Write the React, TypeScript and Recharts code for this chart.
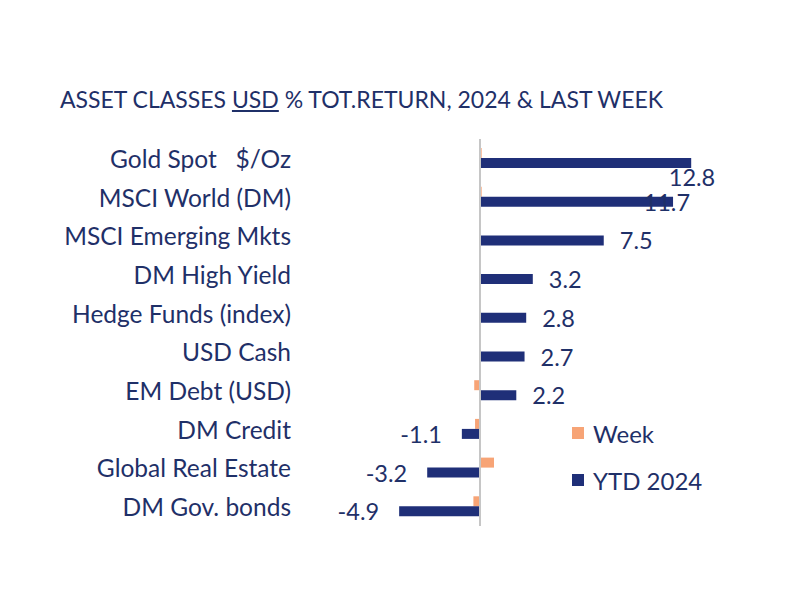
import { BarChart, Bar, XAxis, YAxis, ReferenceLine, LabelList } from 'recharts';

const assetClasses = [
  'Gold Spot   $/Oz',
  'MSCI World (DM)',
  'MSCI Emerging Mkts',
  'DM High Yield',
  'Hedge Funds (index)',
  'USD Cash',
  'EM Debt (USD)',
  'DM Credit',
  'Global Real Estate',
  'DM Gov. bonds',
];
const weekReturns = [0.1, 0.1, 0, 0, 0, 0, -0.35, -0.3, 0.85, -0.4];
const ytdReturns = [12.8, 11.7, 7.5, 3.2, 2.8, 2.7, 2.2, -1.1, -3.2, -4.9];

const NAVY = '#1f2f78';
const TEXT = '#1f3068';
const ORANGE = '#f7a476';
const FONT = 'Lato, "Open Sans", sans-serif';

const data = assetClasses.map((name, i) => ({
  name,
  week: weekReturns[i],
  ytd: ytdReturns[i],
}));

// Category labels sit well left of the zero line
const CategoryTick = ({ x, y, payload }: any) => (
  <text x={x - 82} y={y} textAnchor="end" dominantBaseline="central" fill={TEXT} fontSize={24.5} fontFamily={FONT}>
    {payload.value.split('   ').join('\u00a0\u00a0\u00a0')}
  </text>
);

const YtdLabel = (props: any) => {
  const { x, y, width, height, value } = props;
  const left = Math.min(x, x + width);
  const right = Math.max(x, x + width);
  const cy = y + height / 2;
  let tx = right + 16;
  let anchor: 'start' | 'end' = 'start';
  let dy = 0;
  if (value < 0) {
    tx = left - 20;
    anchor = 'end';
  } else if (value > 12) {
    // pushed below the bar end, as the plot edge clips it
    tx = right + 24;
    anchor = 'end';
    dy = 14;
  } else if (value > 10) {
    tx = right + 17;
    anchor = 'end';
  }
  return (
    <text x={tx} y={cy + dy} textAnchor={anchor} dominantBaseline="central" fill={TEXT} fontSize={23.5} fontFamily={FONT}>
      {Number(value).toFixed(1)}
    </text>
  );
};

const legendRow = { display: 'flex', alignItems: 'center', height: 26 } as const;

export default function App() {
  return (
    <div style={{ position: 'relative', width: 784, height: 580, background: '#fff' }}>
      <div
        style={{
          position: 'absolute',
          left: 52,
          top: 77,
          fontFamily: FONT,
          fontSize: 23,
          color: TEXT,
          whiteSpace: 'nowrap',
        }}
      >
        ASSET CLASSES <span style={{ textDecoration: 'underline' }}>USD</span> % TOT.RETURN, 2024 &amp; LAST WEEK
      </div>
      <div style={{ position: 'absolute', left: 564, top: 412, fontFamily: FONT, fontSize: 24, color: TEXT }}>
        <div style={{ ...legendRow, marginBottom: 21 }}>
          <span style={{ width: 12, height: 12, background: ORANGE, display: 'inline-block', marginRight: 9 }} />
          Week
        </div>
        <div style={legendRow}>
          <span style={{ width: 12, height: 12, background: NAVY, display: 'inline-block', marginRight: 9 }} />
          YTD 2024
        </div>
      </div>
      <BarChart
        width={784}
        height={580}
        data={data}
        layout="vertical"
        margin={{ top: 131, right: 81, bottom: 62, left: 0 }}
        barGap={0}
        barCategoryGap="25%"
      >
        <XAxis type="number" domain={[-6, 14]} hide />
        <YAxis
          type="category"
          dataKey="name"
          width={373}
          axisLine={false}
          tickLine={false}
          tick={<CategoryTick />}
          interval={0}
        />
        <ReferenceLine x={0} stroke="#c6c6c6" strokeWidth={2} />
        <Bar dataKey="week" name="Week" fill={ORANGE} barSize={10} isAnimationActive={false} />
        <Bar dataKey="ytd" name="YTD 2024" fill={NAVY} barSize={10} isAnimationActive={false}>
          <LabelList dataKey="ytd" content={<YtdLabel />} />
        </Bar>
      </BarChart>
    </div>
  );
}
